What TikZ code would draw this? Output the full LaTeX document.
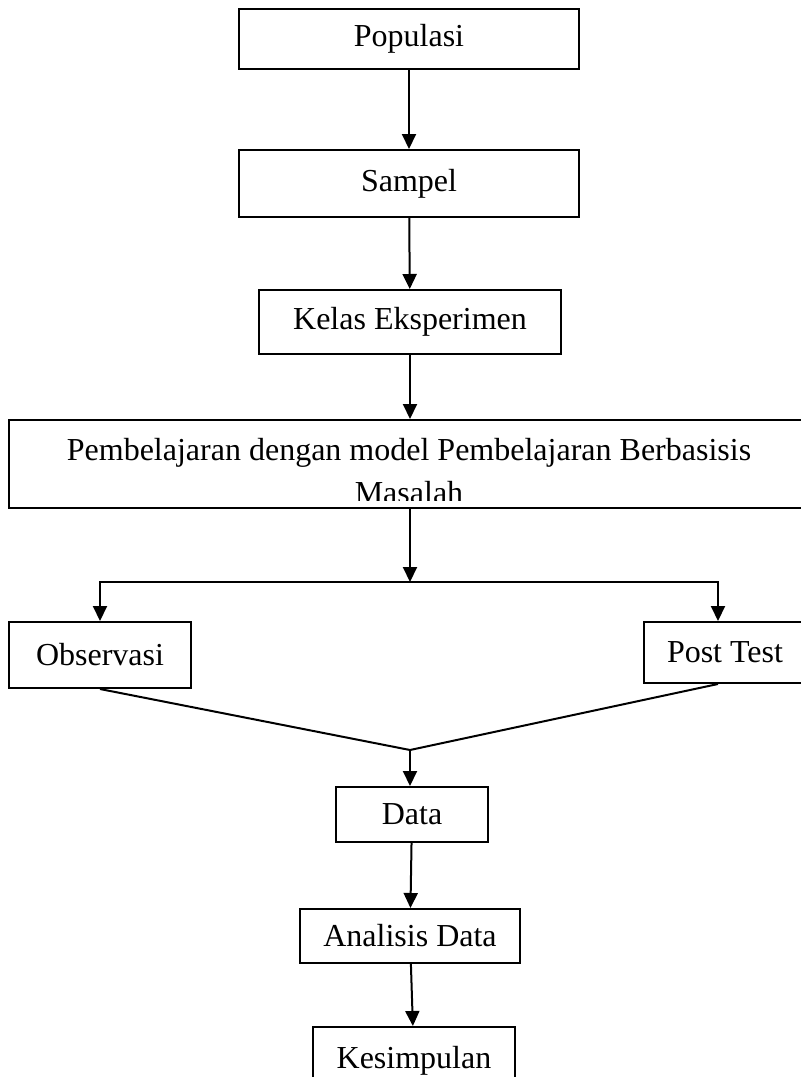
\documentclass[tikz,border=0pt]{standalone}
\usepackage{fontspec}
\setmainfont{Liberation Serif}
\usetikzlibrary{arrows.meta,calc}

\begin{document}
\begin{tikzpicture}[x=0.5pt, y=-0.5pt, >={Triangle[width=7pt,length=7.5pt]},
		line width=1pt, font=\fontsize{16}{21.5}\selectfont,
		box/.style={draw, rectangle, inner sep=0pt, line width=1pt}]
		\useasboundingbox (0,0) rectangle (800,1077);
		% upper chain
		\node[box, minimum width=170pt, minimum height=30pt] (pop) at (409,39) {Populasi};
		\node[box, minimum width=170pt, minimum height=33.5pt] (smp) at (409,183.5) {Sampel};
		\node[box, minimum width=151pt, minimum height=32pt] (kls) at (410,322) {Kelas Eksperimen};
		\node[box, minimum width=398.5pt, minimum height=44pt] (pbl) at (407.5,464) {};
		\begin{scope}
			\clip (pbl.north west) rectangle ([yshift=4.5pt]pbl.south east);
			\node[anchor=base, align=center, inner sep=0pt] (pbltxt) at (409,503) {Pembelajaran dengan model Pembelajaran Berbasisis\\Masalah};
		\end{scope}
		\draw[->] (pop) -- (smp);
		\draw[->] (smp) -- (kls);
		\draw[->] (kls) -- (kls |- pbl.north);
		% branch
		\coordinate (spl) at (410,582);
		\node[box, minimum width=91pt, minimum height=33pt] (obs) at (100,655) {Observasi};
		\node[box, minimum width=81pt, minimum height=30.5pt] (pt) at (725,652.5) {Post Test};
		\draw[->] (pbl.south -| spl) -- (spl);
		\draw[->] (spl) -| (obs);
		\draw[->] (spl) -| ([xshift=-3.5pt]pt.north);
		% merge
		\coordinate (mrg) at (410,750);
		\draw (obs.south) -- (mrg) -- ([xshift=-3.5pt]pt.south);
		% lower chain
		\node[box, minimum width=76pt, minimum height=27.5pt] (dat) at (412,814.5) {Data};
		\node[box, minimum width=110pt, minimum height=27pt] (ana) at (410,936) {Analisis Data};
		\node[box, minimum width=101pt, minimum height=34pt] (kes) at (414,1061) {Kesimpulan};
		\draw[->] (mrg) -- (mrg |- dat.north);
		\draw[->] (dat) -- (ana);
		\draw[->] (ana) -- (kes);
	\end{tikzpicture}
\end{document}
